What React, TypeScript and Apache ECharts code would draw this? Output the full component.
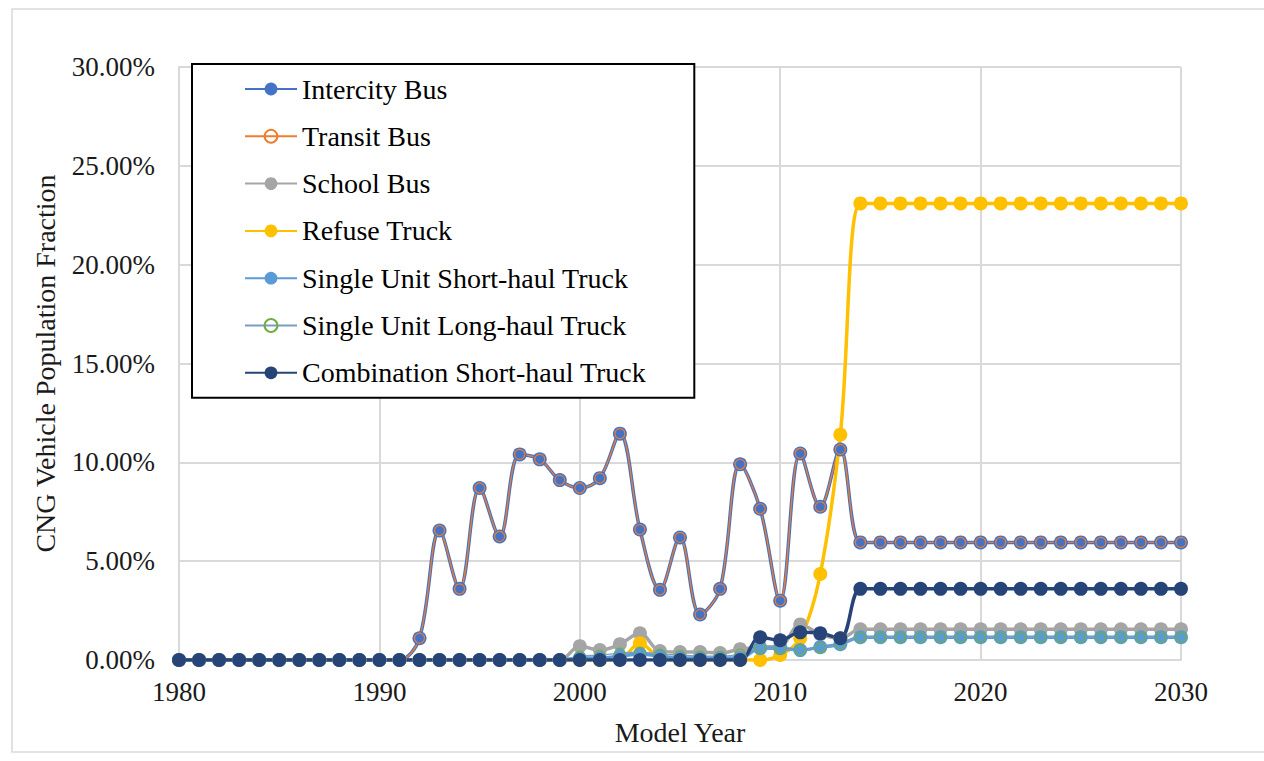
import React, { useEffect, useRef } from "react";
import * as echarts from "echarts";

const years = [
  1980, 1981, 1982, 1983, 1984, 1985, 1986, 1987, 1988, 1989,
  1990, 1991, 1992, 1993, 1994, 1995, 1996, 1997, 1998, 1999,
  2000, 2001, 2002, 2003, 2004, 2005, 2006, 2007, 2008, 2009,
  2010, 2011, 2012, 2013, 2014, 2015, 2016, 2017, 2018, 2019,
  2020, 2021, 2022, 2023, 2024, 2025, 2026, 2027, 2028, 2029, 2030,
];

const intercityBus = [
  0, 0, 0, 0, 0, 0, 0, 0, 0, 0,
  0, 0, 1.1, 6.55, 3.6, 8.7, 6.25, 10.4, 10.15, 9.1,
  8.7, 9.2, 11.45, 6.6, 3.55, 6.2, 2.3, 3.6, 9.9, 7.65,
  3.0, 10.45, 7.75, 10.65, 5.95, 5.95, 5.95, 5.95, 5.95, 5.95,
  5.95, 5.95, 5.95, 5.95, 5.95, 5.95, 5.95, 5.95, 5.95, 5.95, 5.95,
];

const transitBus = [
  0, 0, 0, 0, 0, 0, 0, 0, 0, 0,
  0, 0, 1.1, 6.55, 3.6, 8.7, 6.25, 10.4, 10.15, 9.1,
  8.7, 9.2, 11.45, 6.6, 3.55, 6.2, 2.3, 3.6, 9.9, 7.65,
  3.0, 10.45, 7.75, 10.65, 5.95, 5.95, 5.95, 5.95, 5.95, 5.95,
  5.95, 5.95, 5.95, 5.95, 5.95, 5.95, 5.95, 5.95, 5.95, 5.95, 5.95,
];

const schoolBus = [
  0, 0, 0, 0, 0, 0, 0, 0, 0, 0,
  0, 0, 0, 0, 0, 0, 0, 0, 0, 0,
  0.7, 0.5, 0.8, 1.35, 0.45, 0.4, 0.4, 0.35, 0.55, 0.65,
  0.7, 1.8, 1.3, 1.1, 1.55, 1.55, 1.55, 1.55, 1.55, 1.55,
  1.55, 1.55, 1.55, 1.55, 1.55, 1.55, 1.55, 1.55, 1.55, 1.55, 1.55,
];

const refuseTruck = [
  0, 0, 0, 0, 0, 0, 0, 0, 0, 0,
  0, 0, 0, 0, 0, 0, 0, 0, 0, 0,
  0, 0, 0.05, 0.85, 0.1, 0, 0, 0, 0, 0,
  0.25, 1.1, 4.35, 11.4, 23.1, 23.1, 23.1, 23.1, 23.1, 23.1,
  23.1, 23.1, 23.1, 23.1, 23.1, 23.1, 23.1, 23.1, 23.1, 23.1, 23.1,
];

const suShortHaul = [
  0, 0, 0, 0, 0, 0, 0, 0, 0, 0,
  0, 0, 0, 0, 0, 0, 0, 0, 0, 0,
  0.1, 0.1, 0.2, 0.3, 0.2, 0.1, 0.1, 0.1, 0.1, 0.6,
  0.6, 0.5, 0.65, 0.8, 1.15, 1.15, 1.15, 1.15, 1.15, 1.15,
  1.15, 1.15, 1.15, 1.15, 1.15, 1.15, 1.15, 1.15, 1.15, 1.15, 1.15,
];

const suLongHaul = [
  0, 0, 0, 0, 0, 0, 0, 0, 0, 0,
  0, 0, 0, 0, 0, 0, 0, 0, 0, 0,
  0.2, 0.25, 0.35, 0.4, 0.3, 0.25, 0.2, 0.2, 0.3, 0.6,
  0.55, 0.5, 0.6, 0.8, 1.15, 1.15, 1.15, 1.15, 1.15, 1.15,
  1.15, 1.15, 1.15, 1.15, 1.15, 1.15, 1.15, 1.15, 1.15, 1.15, 1.15,
];

const comboShortHaul = [
  0, 0, 0, 0, 0, 0, 0, 0, 0, 0,
  0, 0, 0, 0, 0, 0, 0, 0, 0, 0,
  0, 0, 0, 0, 0, 0, 0, 0, 0, 1.15,
  1.0, 1.4, 1.35, 1.1, 3.6, 3.6, 3.6, 3.6, 3.6, 3.6,
  3.6, 3.6, 3.6, 3.6, 3.6, 3.6, 3.6, 3.6, 3.6, 3.6, 3.6,
];

const seriesNames = [
  "Intercity Bus",
  "Transit Bus",
  "School Bus",
  "Refuse Truck",
  "Single Unit Short-haul Truck",
  "Single Unit Long-haul Truck",
  "Combination Short-haul Truck",
];

const yTicks = [0, 5, 10, 15, 20, 25, 30];

const FONT = '"Liberation Serif", "Times New Roman", serif';

function pairs(vals: number[]) {
  return years.map((y, i) => [y, vals[i]]);
}

export default function App() {
  const ref = useRef<HTMLDivElement>(null);

  useEffect(() => {
    if (!ref.current) return;
    const chart = echarts.init(ref.current, null, { renderer: "svg" });

    const filled = (name: string, vals: number[], color: string) => ({
      name,
      type: "line",
      data: pairs(vals),
      smooth: 0.35,
      symbol: "circle",
      symbolSize: 14,
      lineStyle: { color, width: 3.5 },
      itemStyle: { color, borderWidth: 0 },
    });

    const hollow = (name: string, vals: number[], lineColor: string, markColor: string) => ({
      name,
      type: "line",
      data: pairs(vals),
      smooth: 0.35,
      symbol: "circle",
      symbolSize: 10,
      lineStyle: { color: lineColor, width: 1.3 },
      itemStyle: { color: "rgba(255,255,255,0)", borderColor: markColor, borderWidth: 1.2 },
    });

    chart.setOption({
      animation: false,
      backgroundColor: "#ffffff",
      textStyle: { fontFamily: FONT },
      graphic: [
        {
          type: "rect",
          shape: { x: 12, y: 9, width: 1262, height: 743 },
          style: { fill: "none", stroke: "#d9d9d9", lineWidth: 1.5 },
          silent: true,
          z: -10,
        },
      ],
      grid: { left: 179, right: 83, top: 67, bottom: 101, containLabel: false },
      legend: {
        orient: "vertical",
        left: 192,
        top: 64,
        padding: [10, 48, 10, 52],
        itemWidth: 52,
        itemHeight: 16,
        itemGap: 17.3,
        backgroundColor: "#ffffff",
        borderColor: "#000000",
        borderWidth: 2,
        borderRadius: 0,
        data: seriesNames,
        textStyle: { fontFamily: FONT, fontSize: 28, color: "#000000", lineHeight: 30 },
      },
      xAxis: {
        type: "value",
        min: 1980,
        max: 2030,
        interval: 10,
        name: "Model Year",
        nameLocation: "middle",
        nameGap: 58,
        nameTextStyle: { fontFamily: FONT, fontSize: 28, color: "#1a1a1a" },
        axisLine: { show: true, lineStyle: { color: "#d9d9d9", width: 2 } },
        axisTick: { show: false },
        splitLine: { show: true, lineStyle: { color: "#d9d9d9", width: 2 } },
        axisLabel: {
          fontFamily: FONT,
          fontSize: 27,
          color: "#1a1a1a",
          margin: 18,
          formatter: (v: number) => String(v),
        },
      },
      yAxis: {
        type: "value",
        min: yTicks[0],
        max: yTicks[yTicks.length - 1],
        interval: 5,
        name: "CNG Vehicle Population Fraction",
        nameLocation: "middle",
        nameGap: 120,
        nameTextStyle: { fontFamily: FONT, fontSize: 28, color: "#1a1a1a" },
        axisLine: { show: true, lineStyle: { color: "#d9d9d9", width: 2 } },
        axisTick: { show: false },
        splitLine: { show: true, lineStyle: { color: "#d9d9d9", width: 2 } },
        axisLabel: {
          fontFamily: FONT,
          fontSize: 27,
          color: "#1a1a1a",
          margin: 24,
          formatter: (v: number) => v.toFixed(2) + "%",
        },
      },
      series: [
        filled(seriesNames[0], intercityBus, "#4472C4"),
        hollow(seriesNames[1], transitBus, "#ED7D31", "#ED7D31"),
        filled(seriesNames[2], schoolBus, "#A5A5A5"),
        filled(seriesNames[3], refuseTruck, "#FFC000"),
        filled(seriesNames[4], suShortHaul, "#5B9BD5"),
        hollow(seriesNames[5], suLongHaul, "#7A9CC6", "#70AD47"),
        filled(seriesNames[6], comboShortHaul, "#264478"),
      ],
    });

    return () => chart.dispose();
  }, []);

  return (
    <div
      ref={ref}
      style={{ position: "fixed", left: 0, top: 0, width: 1264, height: 761, background: "#fff" }}
    />
  );
}
